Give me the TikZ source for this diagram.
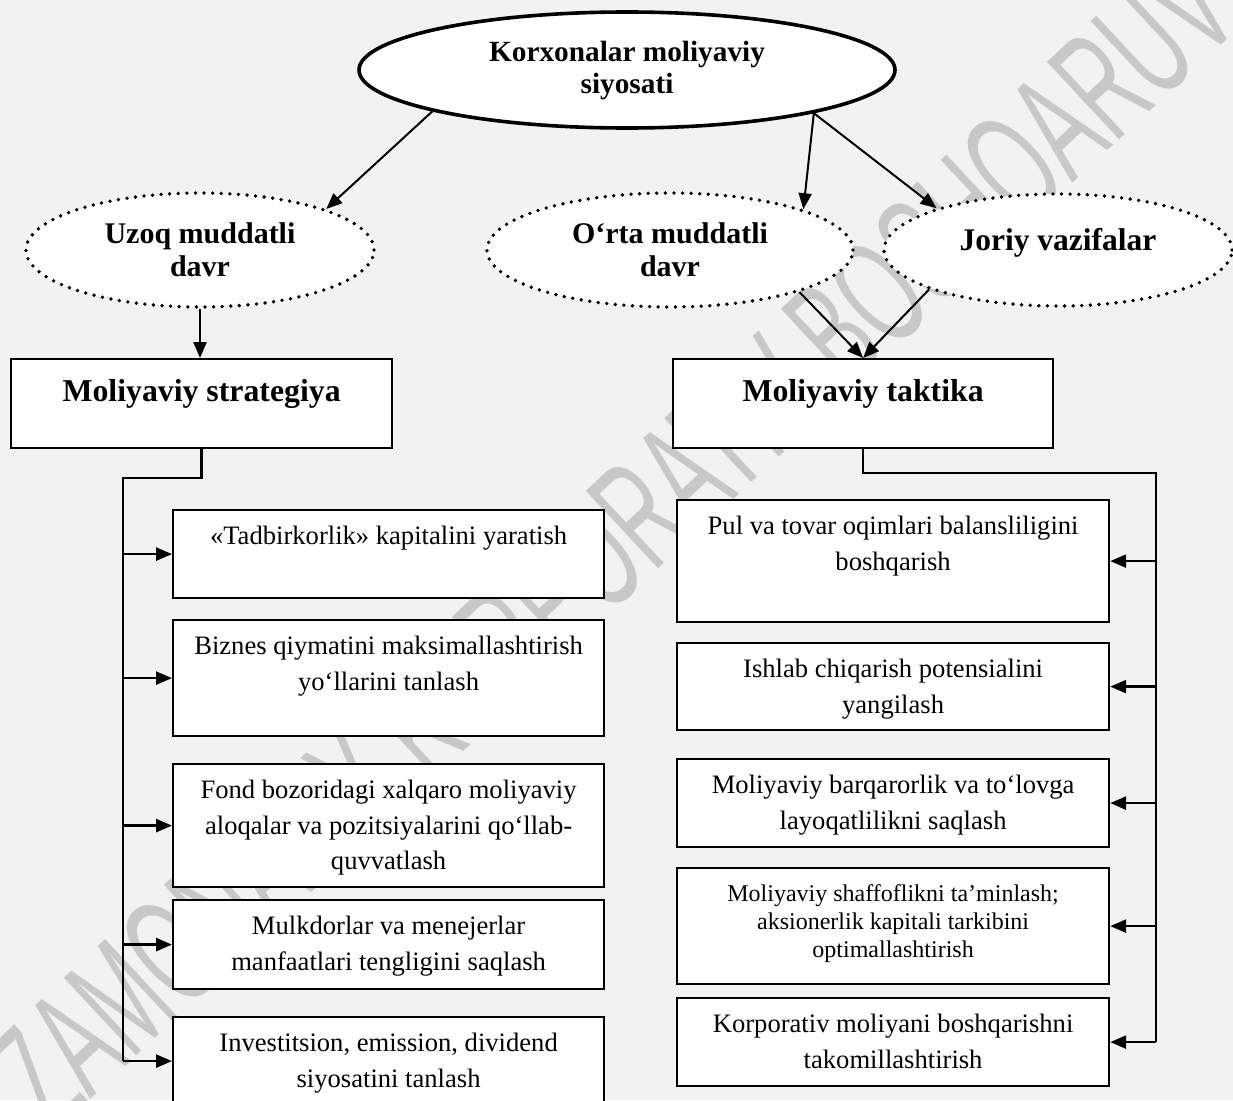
\documentclass[tikz,border=0pt]{standalone}
\usepackage{fontspec}
\setmainfont{Liberation Serif}
\newfontfamily\wmfont{Liberation Sans}
\usetikzlibrary{shapes.geometric,arrows.meta}

\definecolor{pagebg}{RGB}{242,242,242}
\definecolor{wmgray}{RGB}{200,200,200}

% fixed-size cell: height, width, top padding, text (top aligned, centred)
\newcommand\cellbox[4]{\parbox[c][#1][t]{#2}{\centering\vspace*{#3}\strut#4}}

\tikzset{
  conn/.style={line width=2.6pt},
  arr/.style={conn, -{Triangle[length=16pt,width=13pt]}},
  slimarr/.style={line width=2pt, -{Triangle[length=16pt,width=13pt]}},
  box/.style={draw, line width=2.2pt, fill=white, inner sep=0pt, anchor=north west,
    font=\fontsize{26.6}{35.5}\selectfont},
  titlebox/.style={box, font=\bfseries\fontsize{31.8}{36}\selectfont},
  oval/.style={ellipse, fill=white, inner sep=0pt, align=center,
    font=\bfseries\fontsize{30}{33}\selectfont},
  dotline/.style={line width=3.8pt, line cap=round, dash pattern=on 0pt off 8.6pt},
  wm/.style={text=wmgray, inner sep=0pt, font=\wmfont\fontsize{154}{154}\selectfont}
}

\begin{document}
\begin{tikzpicture}[x=1pt,y=-1pt]
  \useasboundingbox (0,0) rectangle (1233,1100);
  \fill[pagebg] (0,0) rectangle (1233,1100);

  % background watermark
  \node[wm, rotate=43] (mark) at (622,550) {\scalebox{0.55}[1]{ZAMONAVIY KORPORATIV BOSHQARUV}};

  % ovals
  \node[oval, draw, line width=3.6pt, minimum width=536pt, minimum height=116pt,
        font=\bfseries\fontsize{29.3}{32}\selectfont] (top) at (627,70)
        {Korxonalar moliyaviy\\siyosati};
  \node[oval, dotline, draw, minimum width=348pt, minimum height=114pt] (uzoq) at (200,250)
        {Uzoq muddatli\\davr};
  \node[oval, dotline, draw, minimum width=366pt, minimum height=114pt] (orta) at (670,250)
        {O‘rta muddatli\\davr};
  \node[oval, dotline, draw, minimum width=348pt, minimum height=112pt,
        font=\bfseries\fontsize{31.5}{33}\selectfont, text height=21pt, text depth=21pt] (joriy) at (1058,250)
        {Joriy vazifalar};

  % main boxes
  \node[titlebox] (strat) at (10,358) {\cellbox{89pt}{381pt}{17pt}{Moliyaviy strategiya}};
  \node[titlebox] (takt) at (672,358) {\cellbox{89pt}{380pt}{17pt}{Moliyaviy taktika}};

  % strategy items
  \node[box] (L1) at (172,509) {\cellbox{88pt}{431pt}{10pt}{«Tadbirkorlik» kapitalini yaratish}};
  \node[box] (L2) at (172,619) {\cellbox{116pt}{431pt}{10pt}{Biznes qiymatini maksimallashtirish\\yo‘llarini tanlash}};
  \node[box] (L3) at (172,763) {\cellbox{123pt}{431pt}{10pt}{Fond bozoridagi xalqaro moliyaviy\\aloqalar va pozitsiyalarini qo‘llab-\\quvvatlash}};
  \node[box] (L4) at (172,899) {\cellbox{89pt}{431pt}{10pt}{Mulkdorlar va menejerlar\\manfaatlari tengligini saqlash}};
  \node[box] (L5) at (172,1016) {\cellbox{88pt}{431pt}{10pt}{Investitsion, emission, dividend\\siyosatini tanlash}};

  % tactic items
  \node[box] (R1) at (676,499) {\cellbox{122pt}{432pt}{10pt}{Pul va tovar oqimlari balansliligini\\boshqarish}};
  \node[box] (R2) at (676,642) {\cellbox{87pt}{432pt}{10pt}{Ishlab chiqarish potensialini\\yangilash}};
  \node[box] (R3) at (676,758) {\cellbox{88pt}{432pt}{10pt}{Moliyaviy barqarorlik va to‘lovga\\layoqatlilikni saqlash}};
  \node[box, font=\fontsize{24}{28}\selectfont] (R4) at (676,867)
        {\cellbox{116pt}{432pt}{13.4pt}{Moliyaviy shaffoflikni ta’minlash;\\aksionerlik kapitali tarkibini\\optimallashtirish}};
  \node[box] (R5) at (676,997) {\cellbox{88pt}{432pt}{10pt}{Korporativ moliyani boshqarishni\\takomillashtirish}};

  % arrows between ovals and boxes
  \draw[slimarr] (top.192.7) -- (uzoq.18.7);
  \draw[slimarr] (top.347.1) -- (orta.17.9);
  \draw[slimarr] (top.347.1) -- (joriy.161.1);
  \draw[slimarr] (orta.342.9) -- (takt.north);
  \draw[slimarr] (joriy.197.9) -- (takt.north);
  \draw[arr] (uzoq.south) -- (uzoq.south |- strat.north);

  % strategy spine
  \coordinate (lk) at (123,478);
  \draw[conn] (strat.south) |- (lk) -- (lk |- L5.west);
  \foreach \b in {L1,L2,L3,L4,L5}
    \draw[arr] (lk |- \b.west) -- (\b.west);

  % tactic spine
  \coordinate (rk) at (1156,473);
  \draw[conn] (takt.south) |- (rk) -- (rk |- R5.east);
  \foreach \b in {R1,R2,R3,R4,R5}
    \draw[arr] (rk |- \b.east) -- (\b.east);
\end{tikzpicture}
\end{document}
